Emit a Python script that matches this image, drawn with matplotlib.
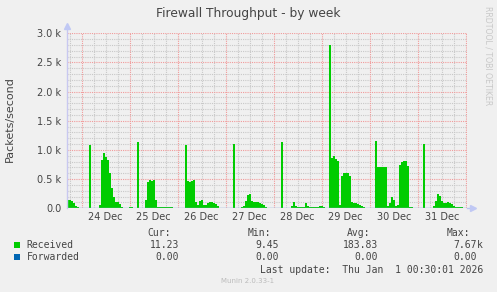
"""
Munin 'Firewall Throughput - by week' recreated with matplotlib
"""

import matplotlib
matplotlib.use('Agg')
import matplotlib.pyplot as plt
from matplotlib.patches import Rectangle
import numpy as np

# hourly averages (packets/s); index = hour of the day
dec23 = [145, 145, 125, 90, 45, 15, 5]  # hours 17..23
dec24 = [5, 5, 5, 5, 1090, 5, 5, 5, 5, 50, 820, 940, 885, 830, 600, 350,
         200, 115, 115, 75, 20, 5, 5, 5]
dec25 = [15, 20, 10, 5, 1130, 5, 5, 5, 150, 450, 480, 460, 490, 150, 15, 15,
         20, 25, 30, 30, 25, 15, 10, 5]
dec26 = [5, 5, 5, 5, 1080, 470, 455, 460, 480, 100, 60, 130, 140, 60, 55, 85,
         100, 100, 95, 70, 45, 10, 5, 5]
dec27 = [5, 5, 5, 5, 1110, 5, 5, 5, 15, 40, 130, 220, 250, 130, 100, 115,
         105, 95, 80, 50, 25, 8, 5, 5]
dec28 = [5, 5, 5, 5, 1130, 5, 5, 5, 10, 40, 100, 35, 30, 25, 30, 30,
         90, 35, 25, 25, 25, 20, 25, 45]
dec29 = [40, 20, 10, 10, 2800, 870, 900, 850, 810, 60, 550, 600, 610, 605, 560, 100,
         90, 85, 75, 55, 35, 20, 10, 5]
dec30 = [5, 5, 5, 1150, 700, 700, 700, 705, 700, 40, 90, 200, 140, 40, 60, 740,
         800, 810, 805, 730, 30, 25, 5, 5]
dec31 = [5, 5, 5, 1100, 5, 5, 5, 5, 40, 130, 240, 210, 120, 85, 95, 100,
         95, 70, 45, 30, 20, 15, 15, 12]
jan01 = [11]

day_labels = ['24 Dec', '25 Dec', '26 Dec', '27 Dec', '28 Dec', '29 Dec', '30 Dec', '31 Dec']
y_ticks = [0, 500, 1000, 1500, 2000, 2500, 3000]
y_tick_labels = ['0.0', '0.5 k', '1.0 k', '1.5 k', '2.0 k', '2.5 k', '3.0 k']

series_names = ['Received', 'Forwarded']
series_colors = ['#00CC00', '#0066B3']
cur_vals = [11.23, 0.00]
min_vals = [9.45, 0.00]
avg_vals = [183.83, 0.00]
max_vals = [7670.0, 0.00]
last_update = 'Last update:  Thu Jan  1 00:30:01 2026'

# time axis: hours relative to Dec 24 00:00
received = np.array(dec23 + dec24 + dec25 + dec26 + dec27 + dec28 + dec29 + dec30 + dec31 + jan01, dtype=float)
hours = np.arange(len(received)) - len(dec23)
forwarded = np.zeros_like(received)

W, H = 497, 292
BG = '#F0F0F0'
TXT = '#444444'


def fx(px):
    return px / W


def fy(py):
    return 1 - py / H


fig = plt.figure(figsize=(W / 100, H / 100), dpi=100, facecolor=BG)
left, right, top, bottom = 66.7, 466.7, 33.3, 208.3
ax = fig.add_axes([fx(left), fy(bottom), (right - left) / W, (bottom - top) / H])
ax.set_facecolor(BG)
xmin, xmax = -7.5, 192.5
ax.set_xlim(xmin, xmax)
ax.set_ylim(0, 3000)
for s in ax.spines.values():
    s.set_visible(False)

# grid: minor gray, major red, dotted
dot = (0, (1, 1))
for v in range(100, 3001, 100):
    if v % 500:
        ax.axhline(v, color='#C8C8C8', lw=0.8, ls=dot, zorder=0)
for h in range(-6, 193, 6):
    if h % 24:
        ax.axvline(h, color='#C8C8C8', lw=0.8, ls=dot, zorder=0)
for v in y_ticks[1:]:
    ax.axhline(v, color='#F19A9A', lw=0.8, ls=dot, zorder=1)
for d in range(0, 9):
    ax.axvline(d * 24, color='#F19A9A', lw=0.8, ls=dot, zorder=1)

# data
ax.fill_between(hours, received, 0, step='mid', color=series_colors[0], lw=0, zorder=2, antialiased=False)
ax.plot([xmin, xmax], [0, 0], color='#7FA0DA', lw=1.0, zorder=3)

# axis lines with arrows
ax.plot([0, 0], [0, 1.03], transform=ax.transAxes, color='#C8C8F0', lw=1.0, clip_on=False, zorder=3)
ax.plot([0], [1.04], marker='^', ms=4, color='#C0C8F4', transform=ax.transAxes, clip_on=False, zorder=3)
ax.plot([1.0, 1.01], [0, 0], transform=ax.transAxes, color='#B8C4F0', lw=1.0, clip_on=False)
ax.plot([1.015], [0], marker='>', ms=4, color='#C0C8F4', transform=ax.transAxes, clip_on=False, zorder=3)

ax.set_yticks(y_ticks)
ax.set_yticklabels(y_tick_labels)
ax.set_xticks([12 + 24 * i for i in range(len(day_labels))])
ax.set_xticklabels(day_labels)
ax.tick_params(axis='both', length=0, labelsize=7, colors=TXT)
ax.tick_params(axis='y', pad=4)
ax.tick_params(axis='x', pad=3)

fig.text(fx(248), fy(13), 'Firewall Throughput - by week', ha='center', va='center',
         fontsize=8.8, color=TXT)
fig.text(fx(10), fy(119), 'Packets/second', rotation=90, ha='center', va='center',
         fontsize=8, color=TXT)
fig.text(fx(488), fy(56), 'RRDTOOL / TOBI OETIKER', rotation=270, ha='center', va='center',
         fontsize=5.6, color='#C8C8C8')

# legend block (monospace)
mono = dict(family='DejaVu Sans Mono', fontsize=7, color=TXT, va='center')
char_w = 5.9
headers = ['Cur:', 'Min:', 'Avg:', 'Max:']
header_right = [171, 271, 370, 470]
col_right = [185, 285, 384, 483]
for hdr, xr in zip(headers, header_right):
    fig.text(fx(xr), fy(233.5), hdr, ha='right', **mono)

rows_y = [245, 257.5]
for i, name in enumerate(series_names):
    y = rows_y[i]
    fig.patches.append(Rectangle((fx(14), fy(y + 2.6)), 6 / W, 6 / H, transform=fig.transFigure,
                                 facecolor=series_colors[i], edgecolor='none'))
    fig.text(fx(26.5), fy(y), name, ha='left', **mono)
    for vals, xr in zip([cur_vals, min_vals, avg_vals, max_vals], col_right):
        v = vals[i]
        if v >= 1000:
            num, unit = f'{v / 1000:.2f}', 'k'
        else:
            num, unit = f'{v:.2f}', ''
        fig.text(fx(xr - char_w), fy(y), num, ha='right', **mono)
        if unit:
            fig.text(fx(xr - char_w), fy(y), unit, ha='left', **mono)

fig.text(fx(483.5), fy(269.7), last_update, ha='right', **mono)
fig.text(fx(248), fy(281), 'Munin 2.0.33-1', ha='center', va='center', fontsize=5, color='#BBBBBB')

fig.savefig('out.png', dpi=100, facecolor=BG)
